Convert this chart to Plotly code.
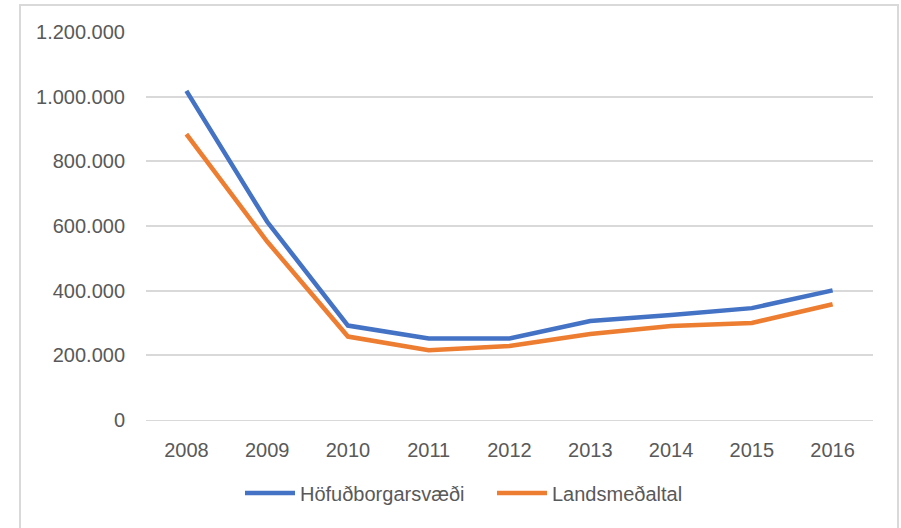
import plotly.graph_objects as go

years = ["2008", "2009", "2010", "2011", "2012", "2013", "2014", "2015", "2016"]
hofud = [1018000, 613000, 292000, 252000, 252000, 306000, 325000, 346000, 401000]
lands = [884000, 552000, 258000, 216000, 229000, 266000, 291000, 300000, 358000]
series_names = ["Höfuðborgarsvæði", "Landsmeðaltal"]
y_ticks = [0, 200000, 400000, 600000, 800000, 1000000, 1200000]

fig = go.Figure()
fig.add_trace(go.Scatter(x=years, y=hofud, mode="lines", name=series_names[0],
                         line=dict(color="#4472C4", width=4.5)))
fig.add_trace(go.Scatter(x=years, y=lands, mode="lines", name=series_names[1],
                         line=dict(color="#ED7D31", width=4.5)))

L, R, T, B = 146, 873, 32, 420
W, H = 901, 528
pw, ph = R - L, B - T

fig.update_layout(
    width=W, height=H,
    margin=dict(l=L, r=W - R, t=T, b=H - B, pad=0),
    paper_bgcolor="white", plot_bgcolor="white",
    separators=",.",
    font=dict(family="Liberation Sans, Arial, sans-serif", size=20, color="#595959"),
    showlegend=True,
    legend=dict(orientation="h", x=(240 - L) / pw, xanchor="left",
                y=(B - 493) / ph, yanchor="middle",
                font=dict(size=20, color="#595959"),
                entrywidth=187, entrywidthmode="pixels",
                itemwidth=50, tracegroupgap=0),
    xaxis=dict(type="category", range=[-0.5, 8.5], showgrid=False, zeroline=False,
               showline=True, linecolor="#D9D9D9", linewidth=1, ticks="",
               ticklabelstandoff=12, fixedrange=True),
    yaxis=dict(range=[0, 1200000], tickvals=y_ticks, tickformat=",d",
               showgrid=True, gridcolor="#D9D9D9", gridwidth=1.5, zeroline=False,
               showline=False, ticks="", ticklabelstandoff=20, fixedrange=True),
    shapes=[dict(type="rect", xref="paper", yref="paper",
                 x0=(20 - L) / pw, x1=(898 - L) / pw,
                 y0=(B - 540) / ph, y1=(B - 5) / ph,
                 line=dict(color="#D9D9D9", width=2), fillcolor="rgba(0,0,0,0)",
                 layer="below")],
)

fig.write_html("out.html", config={"displayModeBar": False},
               post_script="document.body.style.margin='0';document.body.style.overflow='hidden';")
